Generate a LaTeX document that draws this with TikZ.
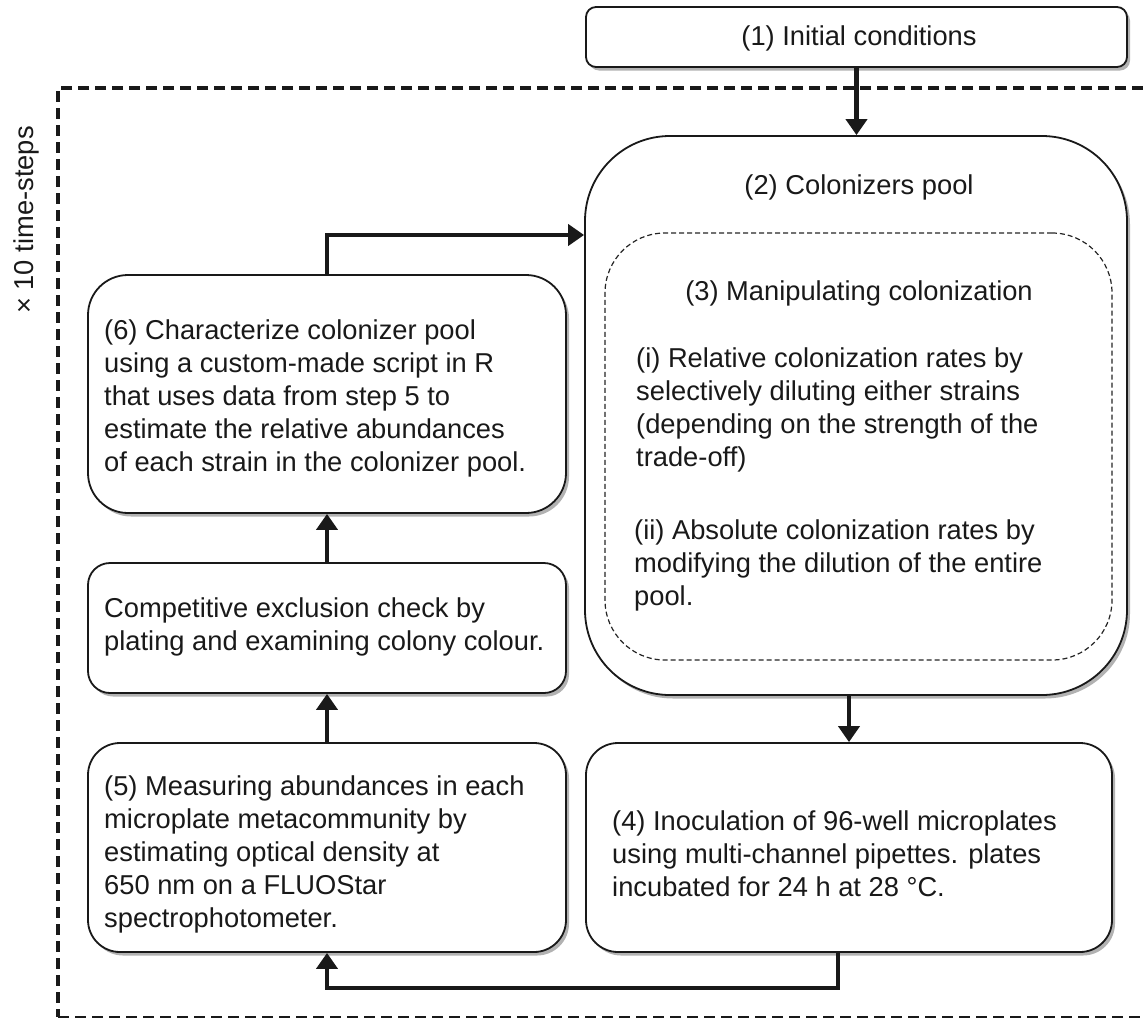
\documentclass[tikz,border=0pt]{standalone}
\usepackage{fontspec}
\setmainfont{Liberation Sans}
\usetikzlibrary{arrows.meta,shadows}
\begin{document}
\begin{tikzpicture}[x=1pt,y=-1pt,
  every node/.style={font=\fontsize{27.3}{33}\selectfont, text=black!90},
  box/.style={draw=black!90, line width=1.8pt, fill=white, rounded corners=#1,
    drop shadow={shadow xshift=3pt, shadow yshift=-3.5pt, opacity=0.3, fill=black}},
  innerbox/.style={draw=black!85, line width=1.2pt, dash pattern=on 5pt off 3pt, rounded corners=60pt},
  txt/.style={inner sep=0pt, align=left, anchor=west},
  ctxt/.style={inner sep=0pt, align=center},
  arr/.style={draw=black!90, line width=4.2pt, -{Triangle[length=16pt,width=21pt]}},
  outerdash/.style={draw=black!90, line width=3.2pt, dash pattern=on 11pt off 6pt}
]
\useasboundingbox (0,0) rectangle (1143,1020);

% outer dashed frame
\coordinate (fa) at (1143,88);
\coordinate (fb) at (58,88);
\coordinate (fc) at (58,1017);
\coordinate (fd) at (1143,1017);
\draw[outerdash] (fa) -- (fb) -- (fc);
\draw[outerdash, line width=2.2pt] (fc) -- (fd);

\node[rotate=90, inner sep=0pt] (lab) at (26,220) {× 10 time-steps};

% boxes
\node[box=10pt, minimum width=541pt, minimum height=60pt] (n1) at (856.5,37) {};
\node[box=85pt, minimum width=542pt, minimum height=559pt] (pool) at (856,415.5) {};
\node[innerbox, minimum width=507pt, minimum height=427pt] (inner) at (858.5,446.5) {};
\node[box=40pt, minimum width=478pt, minimum height=238pt] (b6) at (327,394) {};
\node[box=22pt, minimum width=478pt, minimum height=130pt] (bc) at (327,628) {};
\node[box=32pt, minimum width=478pt, minimum height=209pt] (b5) at (327,847.5) {};
\node[box=32pt, minimum width=526pt, minimum height=209pt] (b4) at (849,847.5) {};

% texts
\node[ctxt] (t1) at (859,38) {(1) Initial conditions};
\node[ctxt] (t2) at (859,187) {(2) Colonizers pool};
\node[ctxt] (t3) at (859,293) {(3) Manipulating colonization};
\node[txt] (t3i) at (636,410) {(i) Relative colonization rates by\\selectively diluting either strains\\(depending on the strength of the\\trade-off)};
\node[txt] (t3ii) at (634,565) {(ii) Absolute colonization rates by\\modifying the dilution of the entire\\pool.};
\node[txt] (t6) at (104,398.5) {(6) Characterize colonizer pool\\using a custom-made script in R\\that uses data from step 5 to\\estimate the relative abundances\\of each strain in the colonizer pool.};
\node[txt] (tc) at (104,626.5) {Competitive exclusion check by\\plating and examining colony colour.};
\node[txt] (t5) at (104,854) {(5) Measuring abundances in each\\microplate metacommunity by\\estimating optical density at\\650 nm on a FLUOStar\\spectrophotometer.};
\node[txt] (t4) at (612,853.5) {(4) Inoculation of 96-well microplates\\using multi-channel pipettes. plates\\incubated for 24 h at 28 °C.};

% connectors
\coordinate (k62) at (327,235);
\coordinate (k45) at (838,988);
\draw[arr] (n1.south) -- (n1.south |- pool.north);
\draw[arr] (pool.south -| b4.north) -- (b4.north);
\draw[arr] (b4.south -| k45) |- (b5.south |- k45) -- (b5.south);
\draw[arr] (b5.north) -- (bc.south);
\draw[arr] (bc.north) -- (b6.south);
\draw[arr] (b6.north) |- (pool.west |- k62);
\end{tikzpicture}
\end{document}
